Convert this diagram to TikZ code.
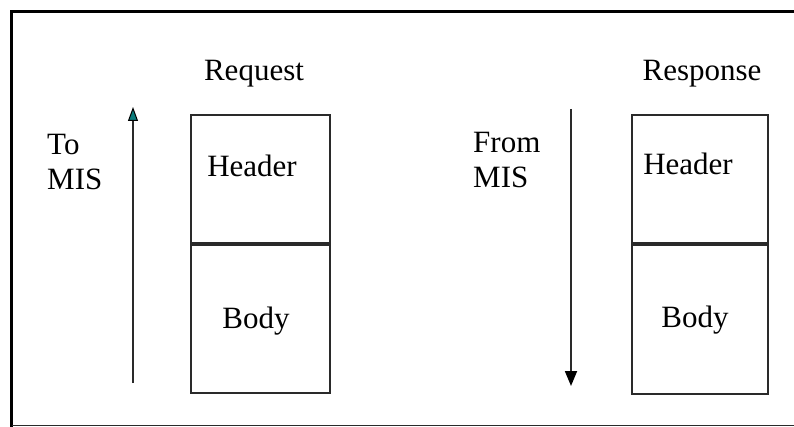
\documentclass[tikz,border=0pt]{standalone}
\usepackage{fontspec}
\setmainfont{Liberation Serif}
\usetikzlibrary{arrows.meta}
\definecolor{lineaGris}{HTML}{2A2A2A}
\definecolor{puntaVerde}{HTML}{0A7C7C}
\tikzset{
  caja/.style={draw=lineaGris, line width=1.8pt, rectangle, inner sep=0pt, anchor=north west},
  rotulo/.style={inner sep=0pt, font=\fontsize{31}{35}\selectfont},
  flecha/.style={draw=lineaGris, line width=1.8pt}
}

\begin{document}
\begin{tikzpicture}[x=1pt,y=-1pt]
  \useasboundingbox (0,0) rectangle (794,427);
  % marco
  \draw[line width=3.8pt] (794,11.5) -- (11.5,11.5) -- (11.5,427);
  \draw[line width=1.4pt, lineaGris] (11.5,425.5) -- (794,425.5);
  % cajas
  \node[caja, minimum width=139pt, minimum height=128pt] (reqHead) at (190,114) {};
  \node[caja, minimum width=139pt, minimum height=148pt] (reqBody) at (reqHead.south west) {};
  \node[caja, minimum width=136pt, minimum height=128pt] (resHead) at (631,114) {};
  \node[caja, minimum width=136pt, minimum height=149pt] (resBody) at (resHead.south west) {};
  % flechas
  \coordinate (upStart) at (133,383);
  \coordinate (upEnd)   at (133,107);
  \coordinate (dnStart) at (571,109);
  \coordinate (dnEnd)   at (571,386);
  \draw[flecha, -{Triangle[width=10pt,length=14pt,fill=puntaVerde,color=black,line width=1pt]}] (upStart) -- (upEnd);
  \draw[flecha, -{Triangle[width=12pt,length=15pt,fill=black,color=black]}] (dnStart) -- (dnEnd);
  % textos
  \node[rotulo, anchor=base] (reqTitle) at (254,81)  {Request};
  \node[rotulo, anchor=base] (resTitle) at (702,81)  {Response};
  \node[rotulo, anchor=north west, align=left] (toMis)   at (47,134)  {To\\MIS};
  \node[rotulo, anchor=north west, align=left] (fromMis) at (473,132) {From\\MIS};
  \node[rotulo, anchor=base] (reqHeadTxt) at (252,177) {Header};
  \node[rotulo, anchor=base] (resHeadTxt) at (688,175) {Header};
  \node[rotulo, anchor=base] (reqBodyTxt) at (256,328) {Body};
  \node[rotulo, anchor=base] (resBodyTxt) at (695,327) {Body};
\end{tikzpicture}
\end{document}
